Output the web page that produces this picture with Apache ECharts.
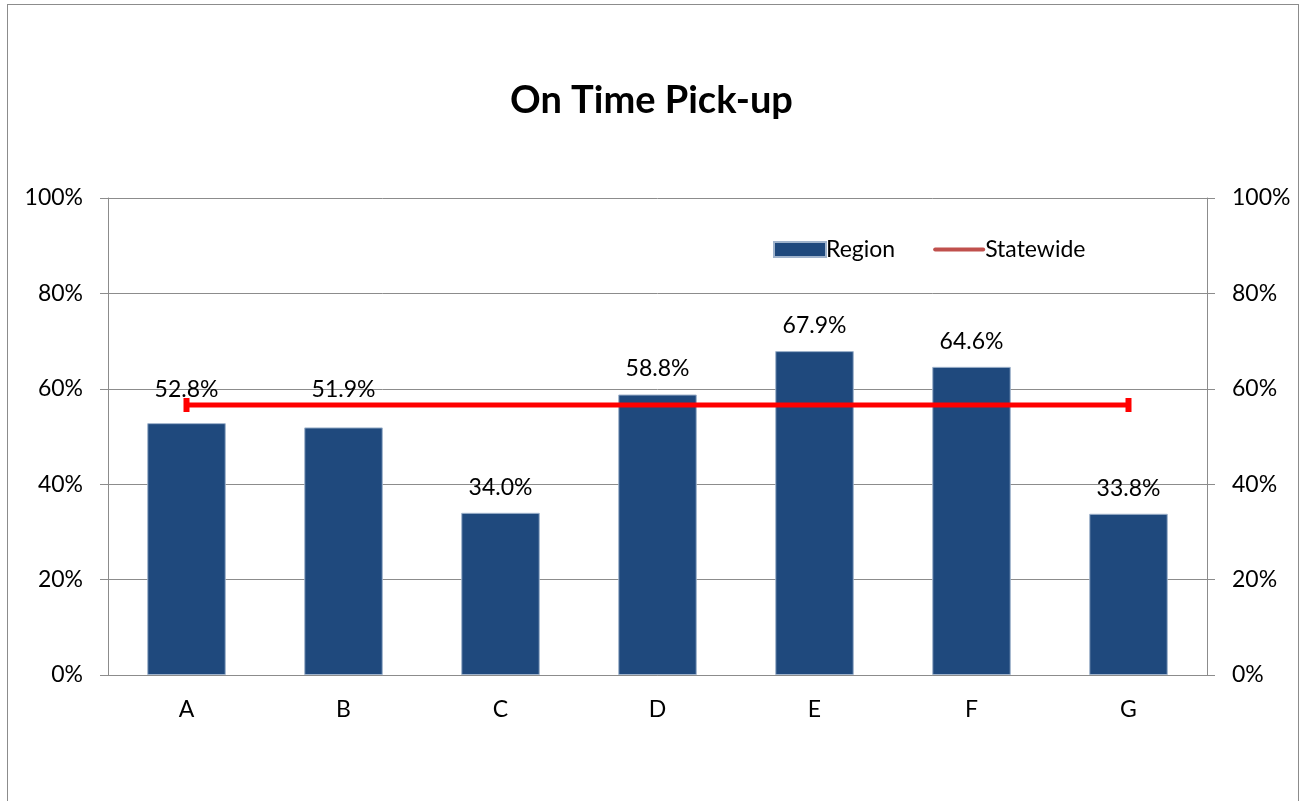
<!DOCTYPE html>
<html>
<head>
<meta charset="utf-8">
<script src="https://cdn.jsdelivr.net/npm/echarts@6/dist/echarts.min.js"></script>
<style>
  html, body { margin: 0; padding: 0; background: #fff; }
  #frame { position: absolute; left: 7px; top: 4px; width: 1290px; height: 900px; border: 1px solid #8c8c8c; }
  #chart { position: absolute; left: 0; top: 0; width: 1303px; height: 801px; }
</style>
</head>
<body>
<div id="frame"></div>
<div id="chart"></div>
<script>
const categories = ['A', 'B', 'C', 'D', 'E', 'F', 'G'];
const regionValues = [52.8, 51.9, 34.0, 58.8, 67.9, 64.6, 33.8];
const statewideValues = [56.6, 56.6, 56.6, 56.6, 56.6, 56.6, 56.6];
const yTicks = [0, 20, 40, 60, 80, 100];

const font = 'Lato, "Open Sans", sans-serif';
const myChart = echarts.init(document.getElementById('chart'), null, { renderer: 'canvas' });

// labels for A and B sit higher, clear of the statewide line
const labelDistance = [22, 26, 14, 14, 14, 14, 14];

const yAxisBase = {
    type: 'value',
    min: yTicks[0],
    max: yTicks[yTicks.length - 1],
    interval: 20,
    axisLine: { show: true, lineStyle: { color: '#8c8c8c', width: 1 } },
    axisTick: { show: true, length: 8, lineStyle: { color: '#8c8c8c' } },
    axisLabel: { formatter: '{value}%', fontFamily: font, fontSize: 23, color: '#000', margin: 25 },
    splitLine: { show: false }
};

const option = {
    animation: false,
    title: {
        text: 'On Time Pick-up',
        left: 'center',
        top: 77,
        textStyle: { fontFamily: font, fontSize: 38, fontWeight: 'bold', color: '#000' }
    },
    legend: {
        left: 768,
        top: 233,
        itemWidth: 52,
        itemHeight: 15,
        itemGap: 38,
        textStyle: { fontFamily: font, fontSize: 23, color: '#000', padding: [0, 0, 0, -5] },
        data: [
            { name: 'Region', icon: 'rect' },
            {
                name: 'Statewide',
                icon: 'path://M2,0 L50,0 Q52,0 52,2 Q52,4 50,4 L2,4 Q0,4 0,2 Q0,0 2,0 Z',
                itemStyle: { color: '#C0504D' }
            }
        ]
    },
    grid: { left: 108, right: 96, top: 198, bottom: 126, containLabel: false },
    xAxis: {
        type: 'category',
        data: categories,
        axisLine: { lineStyle: { color: '#8c8c8c' } },
        axisTick: { show: false },
        axisLabel: { fontFamily: font, fontSize: 23, color: '#000', margin: 23 }
    },
    yAxis: [
        Object.assign({}, yAxisBase, {
            position: 'left',
            splitLine: { show: true, lineStyle: { color: '#8c8c8c', width: 1 } }
        }),
        Object.assign({}, yAxisBase, { position: 'right' })
    ],
    series: [
        {
            name: 'Region',
            type: 'bar',
            barWidth: '50%',
            data: regionValues.map((v, i) => ({
                value: v,
                label: { distance: labelDistance[i] }
            })),
            itemStyle: { color: '#1F497D', borderColor: '#9fb3cc', borderWidth: 1 },
            label: {
                show: true,
                position: 'top',
                formatter: p => p.value.toFixed(1) + '%',
                fontFamily: font,
                fontSize: 23,
                color: '#000'
            }
        },
        {
            name: 'Statewide',
            type: 'line',
            data: statewideValues.map((v, i) => ({
                value: v,
                symbol: (i === 0 || i === statewideValues.length - 1) ? 'rect' : 'none'
            })),
            symbolSize: [6, 14],
            itemStyle: { color: '#FF0000' },
            lineStyle: { color: '#FF0000', width: 5 },
            z: 5
        }
    ]
};

myChart.setOption(option);
</script>
</body>
</html>
